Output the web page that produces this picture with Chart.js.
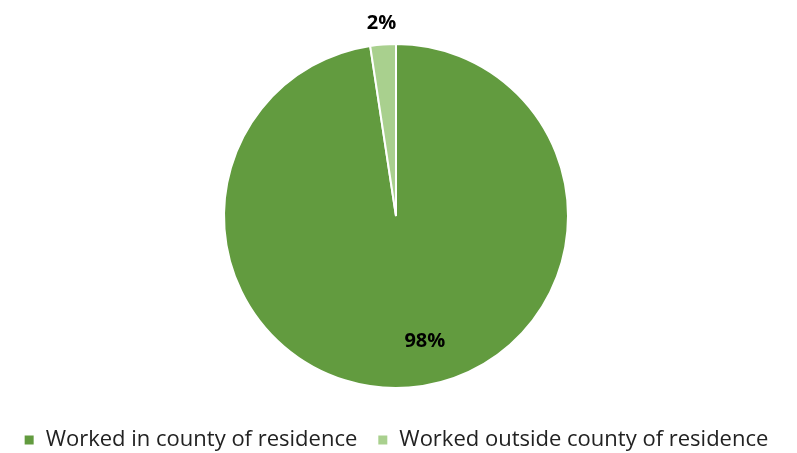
<!DOCTYPE html>
<html>
<head>
<meta charset="utf-8">
<script src="https://cdn.jsdelivr.net/npm/chart.js@4/dist/chart.umd.min.js"></script>
<style>
  html, body { margin: 0; padding: 0; background: #fff; }
  #wrap { width: 797px; height: 453px; position: relative; }
</style>
</head>
<body>
<div id="wrap"><canvas id="chart"></canvas></div>
<script>
const categories = ['Worked in county of residence', 'Worked outside county of residence'];
const shares = [97.6, 2.4];
const sliceColors = ['#629B3F', '#A9D08E'];

// percentage labels: big slices inside, small ones just outside the rim
const pctLabels = {
    id: 'pctLabels',
    afterDatasetsDraw(chart) {
        const ctx = chart.ctx;
        const meta = chart.getDatasetMeta(0);
        const total = shares.reduce((a, b) => a + b, 0);
        ctx.save();
        ctx.font = 'bold 20px "Open Sans", sans-serif';
        ctx.fillStyle = '#000';
        ctx.textAlign = 'center';
        ctx.textBaseline = 'middle';
        meta.data.forEach((arc, i) => {
            const mid = (arc.startAngle + arc.endAngle) / 2;
            const pct = shares[i] / total;
            const dist = pct > 0.1 ? arc.outerRadius * 0.75 : arc.outerRadius + 21;
            // inside label sits a little off the mid-angle, like the original
            const ang = pct > 0.1 ? mid - 0.15 : mid;
            const x = arc.x + Math.cos(ang) * dist;
            const y = arc.y + Math.sin(ang) * dist;
            ctx.fillText(Math.round(pct * 100) + '%', x, y);
        });
        ctx.restore();
    }
};

// push the legend row down toward the bottom edge (padding is shared with the horizontal gap)
const legendDown = {
    id: 'legendDown',
    afterLayout(chart) {
        chart.legend.top += 8;
        chart.legend.bottom += 8;
    }
};

new Chart(document.getElementById('chart'), {
    type: 'pie',
    data: {
        labels: categories,
        datasets: [{
            data: shares,
            backgroundColor: sliceColors,
            borderColor: '#fff',
            borderWidth: 2,
            radius: 172
        }]
    },
    options: {
        responsive: true,
        maintainAspectRatio: false,
        animation: false,
        layout: { padding: { top: 31, bottom: 0, left: 0, right: 5 } },
        plugins: {
            legend: {
                position: 'bottom',
                labels: {
                    color: '#222',
                    font: { family: '"Open Sans", sans-serif', size: 22 },
                    boxWidth: 11,
                    boxHeight: 11,
                    padding: 20
                }
            },
            tooltip: { enabled: false }
        }
    },
    plugins: [pctLabels, legendDown]
});
</script>
</body>
</html>
